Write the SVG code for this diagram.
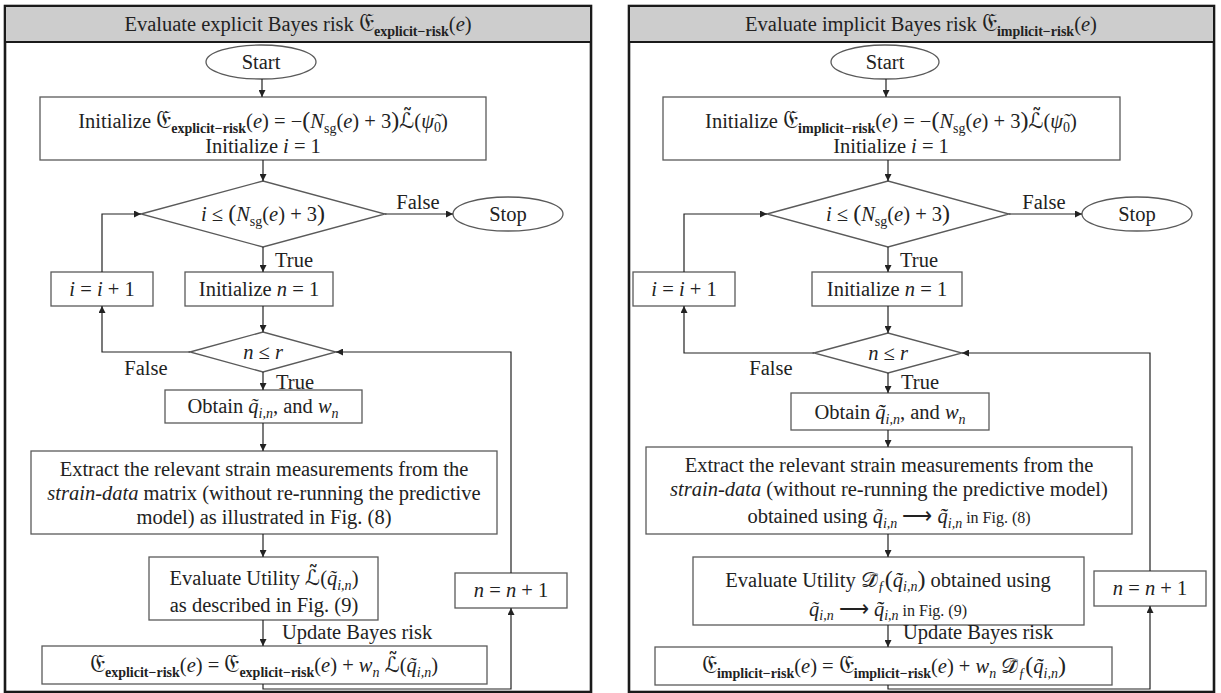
<svg xmlns="http://www.w3.org/2000/svg" width="1221" height="693" viewBox="0 0 1221 693">
<defs>
<style>
.panel{fill:#fff;stroke:#1a1a1a;stroke-width:2.6}
.hdr{fill:#cdcdcd;stroke:#1a1a1a;stroke-width:2}
.box{fill:#fff;stroke:#5a5a5a;stroke-width:1.3}
.t{font-family:"Liberation Serif",serif;font-size:20.5px;fill:#222;text-anchor:middle}
.l{font-family:"Liberation Serif",serif;font-size:20.5px;fill:#222}
.i{font-style:italic}
.sb{font-size:14px;font-weight:bold}
.s{font-size:14px}
.fk{font-family:"DejaVu Serif","DejaVu Sans","Noto Sans",serif;font-size:21px}
.fe{font-family:"DejaVu Serif","DejaVu Sans","Noto Sans",serif;font-size:25px}
.sm{font-size:16px}
.bp{font-size:24px}
.c{fill:none;stroke:#222;stroke-width:1.2;marker-end:url(#ah)}
</style>
<marker id="ah" markerUnits="userSpaceOnUse" markerWidth="8" markerHeight="7" refX="7" refY="3.5" orient="auto">
<path d="M0,0 L7,3.5 L0,7 z" fill="#222"/>
</marker>
</defs>
<rect width="1221" height="693" fill="#fff"/>

<!-- LEFT PANEL -->
<g id="panel-left">
<rect class="panel" x="5" y="6" width="586" height="686"/>
<rect class="hdr" x="5" y="6" width="586" height="36"/>
<text class="t" x="298" y="31">Evaluate explicit Bayes risk <tspan class="fe">𝔈</tspan><tspan class="sb" dy="5">explicit−risk</tspan><tspan dy="-5">(</tspan><tspan class="i">e</tspan>)</text>
</g>

<g id="L-start"><ellipse class="box" cx="261" cy="62" rx="55" ry="17"/><text class="t" x="261" y="69">Start</text></g>
<g id="L-init"><rect class="box" x="40" y="97" width="446" height="63"/>
<text class="t" x="263" y="128">Initialize <tspan class="fe">𝔈</tspan><tspan class="sb" dy="5">explicit−risk</tspan><tspan dy="-5">(</tspan><tspan class="i">e</tspan>) = −<tspan class="bp">(</tspan><tspan class="i">N</tspan><tspan class="s" dy="5">sg</tspan><tspan dy="-5">(</tspan><tspan class="i">e</tspan>) + 3<tspan class="bp">)</tspan><tspan class="fk">ℒ̃</tspan>(<tspan class="i">ψ̃</tspan><tspan class="s" dy="4">0</tspan><tspan dy="-4">)</tspan></text>
<text class="t" x="263" y="153">Initialize <tspan class="i">i</tspan> = 1</text></g>
<g id="L-dec1"><polygon class="box" points="141,214 263,181 385,214 263,247"/>
<text class="t" x="263" y="221"><tspan class="i">i</tspan> ≤ <tspan class="bp">(</tspan><tspan class="i">N</tspan><tspan class="s" dy="5">sg</tspan><tspan dy="-5">(</tspan><tspan class="i">e</tspan>) + 3<tspan class="bp">)</tspan></text></g>
<g id="L-stop"><ellipse class="box" cx="508" cy="214" rx="55" ry="17"/><text class="t" x="508" y="221">Stop</text></g>
<g id="L-initn"><rect class="box" x="185" y="272" width="148" height="34"/><text class="t" x="259" y="296">Initialize <tspan class="i">n</tspan> = 1</text></g>
<g id="L-inci"><rect class="box" x="51" y="272" width="102" height="34"/><text class="t" x="102" y="296"><tspan class="i">i</tspan> = <tspan class="i">i</tspan> + 1</text></g>
<g id="L-dec2"><polygon class="box" points="190,352 263,332 336,352 263,372"/><text class="t" x="263" y="359"><tspan class="i">n</tspan> ≤ <tspan class="i">r</tspan></text></g>
<g id="L-obtain"><rect class="box" x="165" y="390" width="197" height="33"/><text class="t" x="263" y="413">Obtain <tspan class="i">q̃</tspan><tspan class="s i" dy="5">i,n</tspan><tspan dy="-5">, and </tspan><tspan class="i">w</tspan><tspan class="s i" dy="5">n</tspan></text></g>
<g id="L-extract"><rect class="box" x="31" y="451" width="466" height="83"/>
<text class="t" x="264" y="476">Extract the relevant strain measurements from the</text>
<text class="t" x="264" y="500"><tspan class="i">strain-data</tspan> matrix (without re-running the predictive</text>
<text class="t" x="264" y="524">model) as illustrated in Fig. (8)</text></g>
<g id="L-eval"><rect class="box" x="149" y="557" width="229" height="63"/>
<text class="t" x="264" y="585">Evaluate Utility <tspan class="fk">ℒ̃</tspan>(<tspan class="i">q̃</tspan><tspan class="s i" dy="5">i,n</tspan><tspan dy="-5">)</tspan></text>
<text class="t" x="264" y="612">as described in Fig. (9)</text></g>
<g id="L-update"><rect class="box" x="42" y="646" width="445" height="38"/>
<text class="t" x="264" y="672"><tspan class="fe">𝔈</tspan><tspan class="sb" dy="5">explicit−risk</tspan><tspan dy="-5">(</tspan><tspan class="i">e</tspan>) = <tspan class="fe">𝔈</tspan><tspan class="sb" dy="5">explicit−risk</tspan><tspan dy="-5">(</tspan><tspan class="i">e</tspan>) + <tspan class="i">w</tspan><tspan class="s i" dy="5">n</tspan><tspan dy="-5"> </tspan><tspan class="fk">ℒ̃</tspan>(<tspan class="i">q̃</tspan><tspan class="s i" dy="5">i,n</tspan><tspan dy="-5">)</tspan></text></g>
<g id="L-incn"><rect class="box" x="455" y="573" width="112" height="35"/><text class="t" x="511" y="597"><tspan class="i">n</tspan> = <tspan class="i">n</tspan> + 1</text></g>

<!-- RIGHT PANEL -->
<g id="panel-right">
<rect class="panel" x="629" y="6" width="585" height="686"/>
<rect class="hdr" x="629" y="6" width="585" height="36"/>
<text class="t" x="921" y="31">Evaluate implicit Bayes risk <tspan class="fe">𝔈</tspan><tspan class="sb" dy="5">implicit−risk</tspan><tspan dy="-5">(</tspan><tspan class="i">e</tspan>)</text>
</g>

<g id="R-start"><ellipse class="box" cx="885" cy="62" rx="54" ry="17"/><text class="t" x="885" y="69">Start</text></g>
<g id="R-init"><rect class="box" x="663" y="97" width="457" height="63"/>
<text class="t" x="891" y="128">Initialize <tspan class="fe">𝔈</tspan><tspan class="sb" dy="5">implicit−risk</tspan><tspan dy="-5">(</tspan><tspan class="i">e</tspan>) = −<tspan class="bp">(</tspan><tspan class="i">N</tspan><tspan class="s" dy="5">sg</tspan><tspan dy="-5">(</tspan><tspan class="i">e</tspan>) + 3<tspan class="bp">)</tspan><tspan class="fk">ℒ̃</tspan>(<tspan class="i">ψ̃</tspan><tspan class="s" dy="4">0</tspan><tspan dy="-4">)</tspan></text>
<text class="t" x="891" y="153">Initialize <tspan class="i">i</tspan> = 1</text></g>
<g id="R-dec1"><polygon class="box" points="767,214 888,181 1009,214 888,247"/>
<text class="t" x="888" y="221"><tspan class="i">i</tspan> ≤ <tspan class="bp">(</tspan><tspan class="i">N</tspan><tspan class="s" dy="5">sg</tspan><tspan dy="-5">(</tspan><tspan class="i">e</tspan>) + 3<tspan class="bp">)</tspan></text></g>
<g id="R-stop"><ellipse class="box" cx="1137" cy="214" rx="55" ry="17"/><text class="t" x="1137" y="221">Stop</text></g>
<g id="R-initn"><rect class="box" x="812" y="272" width="150" height="34"/><text class="t" x="887" y="296">Initialize <tspan class="i">n</tspan> = 1</text></g>
<g id="R-inci"><rect class="box" x="633" y="272" width="102" height="34"/><text class="t" x="684" y="296"><tspan class="i">i</tspan> = <tspan class="i">i</tspan> + 1</text></g>
<g id="R-dec2"><polygon class="box" points="814,353 888,333 962,353 888,373"/><text class="t" x="888" y="360"><tspan class="i">n</tspan> ≤ <tspan class="i">r</tspan></text></g>
<g id="R-obtain"><rect class="box" x="791" y="393" width="198" height="37"/><text class="t" x="890" y="419">Obtain <tspan class="i">q̃̃</tspan><tspan class="s i" dy="5">i,n</tspan><tspan dy="-5">, and </tspan><tspan class="i">w</tspan><tspan class="s i" dy="5">n</tspan></text></g>
<g id="R-extract"><rect class="box" x="646" y="447" width="486" height="87"/>
<text class="t" x="889" y="472">Extract the relevant strain measurements from the</text>
<text class="t" x="889" y="496"><tspan class="i">strain-data</tspan> (without re-running the predictive model)</text>
<text class="t" x="889" y="523">obtained using <tspan class="i">q̃</tspan><tspan class="s i" dy="5">i,n</tspan><tspan dy="-5"> ⟶ </tspan><tspan class="i">q̃̃</tspan><tspan class="s i" dy="5">i,n</tspan><tspan class="sm" dy="-5"> in Fig. (8)</tspan></text></g>
<g id="R-eval"><rect class="box" x="693" y="557" width="391" height="68"/>
<text class="t" x="888" y="587">Evaluate Utility <tspan class="fk">𝒟̃</tspan><tspan class="s i" dy="4">ƒ</tspan><tspan class="bp" dy="-4">(</tspan><tspan class="i">q̃̃</tspan><tspan class="s i" dy="4">i,n</tspan><tspan class="bp" dy="-4">)</tspan> obtained using</text>
<text class="t" x="888" y="616"><tspan class="i">q̃</tspan><tspan class="s i" dy="4">i,n</tspan><tspan dy="-4"> ⟶ </tspan><tspan class="i">q̃̃</tspan><tspan class="s i" dy="4">i,n</tspan><tspan class="sm" dy="-4"> in Fig. (9)</tspan></text></g>
<g id="R-update"><rect class="box" x="655" y="647" width="457" height="38"/>
<text class="t" x="884" y="673"><tspan class="fe">𝔈</tspan><tspan class="sb" dy="5">implicit−risk</tspan><tspan dy="-5">(</tspan><tspan class="i">e</tspan>) = <tspan class="fe">𝔈</tspan><tspan class="sb" dy="5">implicit−risk</tspan><tspan dy="-5">(</tspan><tspan class="i">e</tspan>) + <tspan class="i">w</tspan><tspan class="s i" dy="5">n</tspan><tspan dy="-5"> </tspan><tspan class="fk">𝒟̃</tspan><tspan class="s i" dy="5">ƒ</tspan><tspan class="bp" dy="-5">(</tspan><tspan class="i">q̃̃</tspan><tspan class="s i" dy="5">i,n</tspan><tspan class="bp" dy="-5">)</tspan></text></g>
<g id="R-incn"><rect class="box" x="1094" y="571" width="112" height="35"/><text class="t" x="1150" y="595"><tspan class="i">n</tspan> = <tspan class="i">n</tspan> + 1</text></g>

<!-- CONNECTORS -->
<g id="connectors">
<path class="c" d="M262,79 V97"/>
<path class="c" d="M263,160 V181"/>
<path class="c" d="M385,214 H453"/>
<path class="c" d="M263,247 V272"/>
<path class="c" d="M263,306 V332"/>
<path class="c" d="M190,352 H102 V306"/>
<path class="c" d="M102,272 V214 H141"/>
<path class="c" d="M263,372 V390"/>
<path class="c" d="M263,423 V451"/>
<path class="c" d="M263,534 V557"/>
<path class="c" d="M263,620 V646"/>
<path class="c" d="M263,684 V689 H511 V608"/>
<path class="c" d="M511,573 V352 H336"/>

<path class="c" d="M886,79 V97"/>
<path class="c" d="M888,160 V181"/>
<path class="c" d="M1009,214 H1082"/>
<path class="c" d="M888,247 V272"/>
<path class="c" d="M888,306 V333"/>
<path class="c" d="M814,353 H684 V306"/>
<path class="c" d="M684,272 V214 H767"/>
<path class="c" d="M888,373 V393"/>
<path class="c" d="M888,430 V447"/>
<path class="c" d="M888,534 V557"/>
<path class="c" d="M888,625 V647"/>
<path class="c" d="M888,685 V689 H1150 V606"/>
<path class="c" d="M1150,571 V353 H962"/>
</g>

<g id="labels">
<text class="t" x="418" y="209">False</text>
<text class="l" x="275" y="267">True</text>
<text class="t" x="146" y="375">False</text>
<text class="l" x="276" y="389">True</text>
<text class="l" x="282" y="639">Update Bayes risk</text>

<text class="t" x="1044" y="209">False</text>
<text class="l" x="900" y="267">True</text>
<text class="t" x="771" y="375">False</text>
<text class="l" x="901" y="389">True</text>
<text class="l" x="903" y="639">Update Bayes risk</text>
</g>
</svg>
